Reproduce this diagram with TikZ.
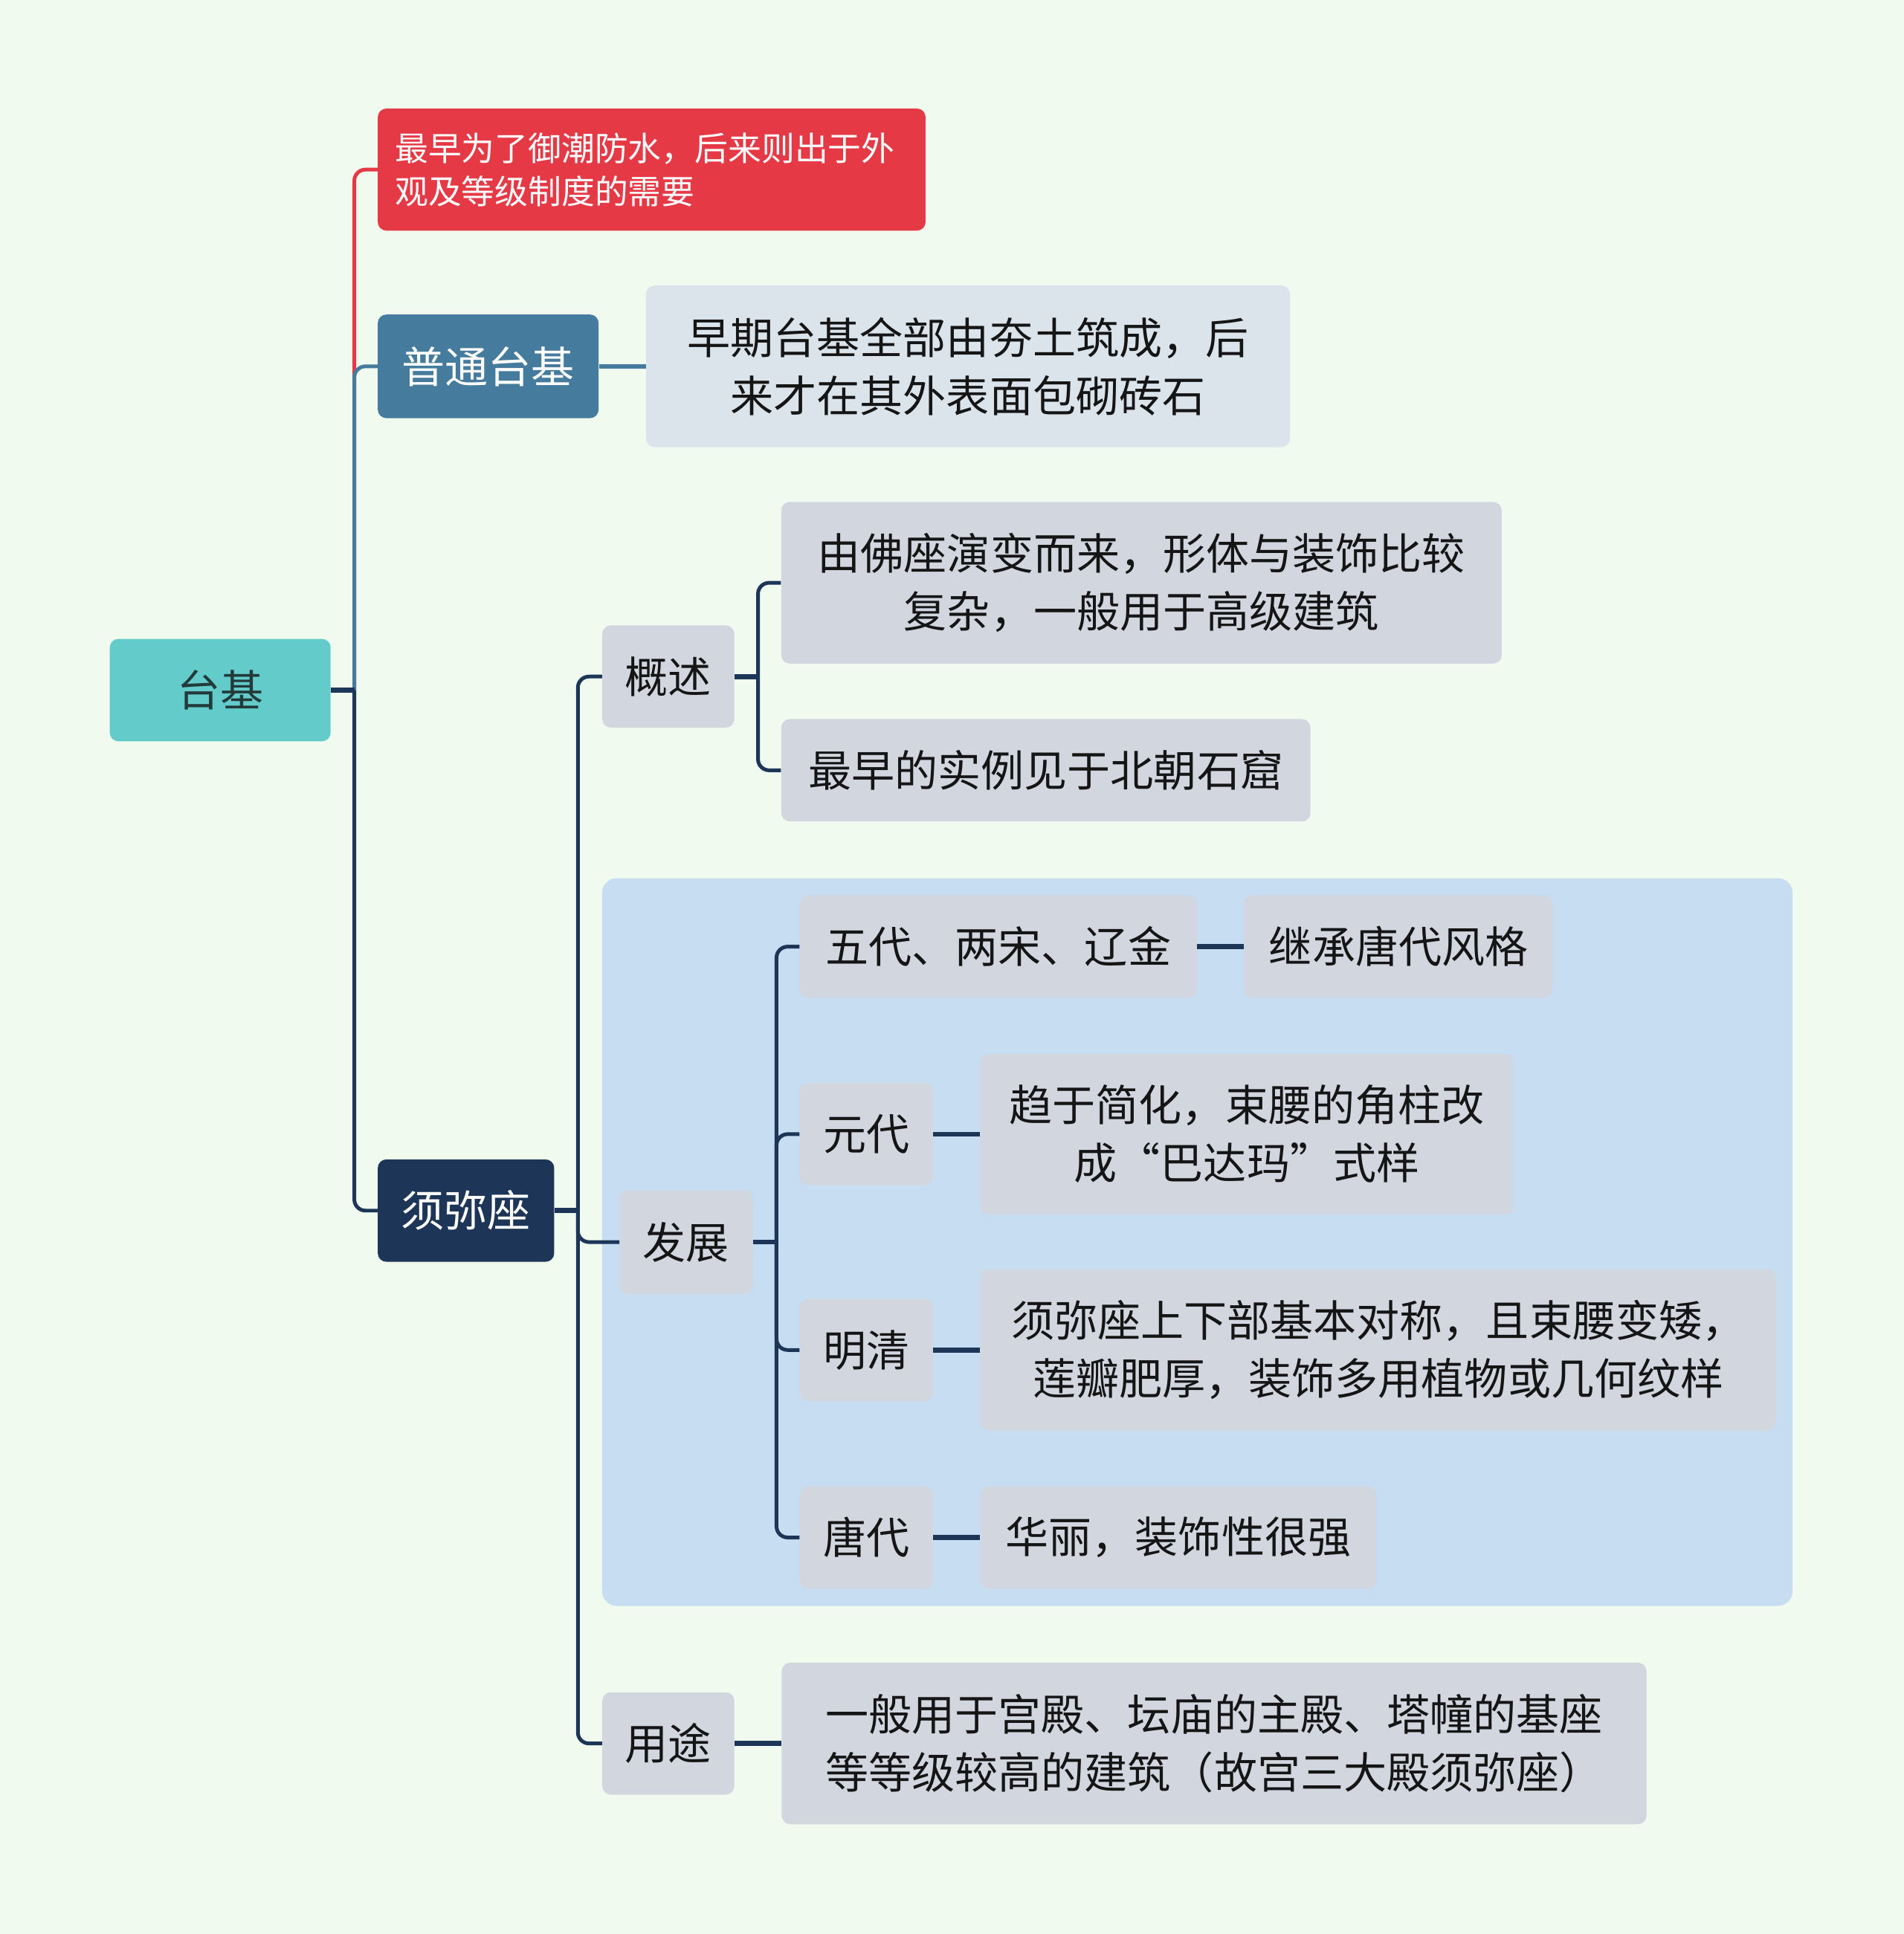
\documentclass[tikz,border=0pt]{standalone}
\usepackage{fontspec}
\newfontfamily\cjk{Noto Sans CJK SC}
\usetikzlibrary{positioning}

\definecolor{bgcol}{HTML}{F1FAEE}
\definecolor{rootcol}{HTML}{63CCCB}
\definecolor{rootink}{HTML}{223A3A}
\definecolor{redcol}{HTML}{E63946}
\definecolor{bluecol}{HTML}{457B9D}
\definecolor{navycol}{HTML}{1D3557}
\definecolor{leafcol}{HTML}{D2D7DF}
\definecolor{paleleaf}{HTML}{DBE4EB}
\definecolor{groupcol}{HTML}{C7DDF1}
\definecolor{inkcol}{HTML}{151515}

\begin{document}
\begin{tikzpicture}[
    x=1pt, y=-1pt,
    node distance=38pt,
    box/.style={
        rounded corners=7pt,
        inner sep=0pt,
        align=center,
        font=\cjk\fontsize{35}{47}\selectfont
    },
    rootbox/.style={box, fill=rootcol, text=rootink},
    topicbox/.style={box, text=white},
    leaf/.style={box, fill=leafcol, text=inkcol},
    link/.style={line width=3pt, rounded corners=9pt},
    stem/.style={line width=4pt}
]
    % canvas
    \fill[bgcol] (0,0) rectangle (1543,1568);
    \useasboundingbox (0,0) rectangle (1543,1568);

    % group frame behind the development branch
    \fill[groupcol, rounded corners=12pt] (488,712) rectangle (1453,1302);

    % root and main topics
    \node[rootbox, minimum width=179pt, minimum height=83pt] (taiji) at (178.5,559.5) {台基};
    \node[box, fill=redcol, text=white, anchor=west, minimum width=444pt, minimum height=99pt,
          align=left, text width=416pt, inner xsep=14pt,
          font=\cjk\fontsize{27}{35}\selectfont] (origin) at (306,137.5)
          {最早为了御潮防水，后来则出于外\\观及等级制度的需要};
    \node[topicbox, fill=bluecol, anchor=west, minimum width=179pt, minimum height=84pt] (putong) at (306,297) {普通台基};
    \node[box, fill=paleleaf, text=inkcol, minimum width=522pt, minimum height=131pt, right=of putong] (putongtxt)
          {早期台基全部由夯土筑成，后\\来才在其外表面包砌砖石};
    \node[topicbox, fill=navycol, anchor=west, minimum width=143pt, minimum height=83pt] (xumi) at (306,981.5) {须弥座};

    % 须弥座 subtopics
    \node[leaf, anchor=west, minimum width=107pt, minimum height=83pt] (gaishu) at (488,548.5) {概述};
    \node[leaf, anchor=west, minimum width=584pt, minimum height=131pt] (fozuo) at (633,472.5)
          {由佛座演变而来，形体与装饰比较\\复杂，一般用于高级建筑};
    \node[leaf, anchor=west, minimum width=429pt, minimum height=83pt] (shili) at (633,624.5) {最早的实例见于北朝石窟};

    \node[leaf, anchor=west, minimum width=108pt, minimum height=84pt] (fazhan) at (502,1007) {发展};
    \node[leaf, anchor=west, minimum width=322pt, minimum height=83pt] (wudai) at (648,767.5) {五代、两宋、辽金};
    \node[leaf, minimum width=250pt, minimum height=83pt, right=of wudai] (jicheng) {继承唐代风格};
    \node[leaf, anchor=west, minimum width=108pt, minimum height=83pt] (yuan) at (648,919.5) {元代};
    \node[leaf, minimum width=432pt, minimum height=130pt, right=of yuan] (yuantxt)
          {趋于简化，束腰的角柱改\\成“巴达玛”式样};
    \node[leaf, anchor=west, minimum width=108pt, minimum height=83pt] (mingqing) at (648,1094.5) {明清};
    \node[leaf, minimum width=645pt, minimum height=131pt, right=of mingqing] (mingqingtxt)
          {须弥座上下部基本对称，且束腰变矮，\\莲瓣肥厚，装饰多用植物或几何纹样};
    \node[leaf, anchor=west, minimum width=108pt, minimum height=83pt] (tang) at (648,1246.5) {唐代};
    \node[leaf, minimum width=321pt, minimum height=83pt, right=of tang] (tangtxt) {华丽，装饰性很强};

    \node[leaf, anchor=west, minimum width=107pt, minimum height=83pt] (yongtu) at (488,1413.5) {用途};
    \node[leaf, minimum width=701pt, minimum height=131pt, right=of yongtu] (yongtutxt)
          {一般用于宫殿、坛庙的主殿、塔幢的基座\\等等级较高的建筑（故宫三大殿须弥座）};

    % forks
    \path (taiji.east) ++(19,0) coordinate (rootfork);
    \path (xumi.east) ++(19,0) coordinate (xumifork);
    \path (gaishu.east) ++(19,0) coordinate (gaishufork);
    \path (fazhan.east) ++(19,0) coordinate (fazhanfork);

    % root branches
    \draw[link, redcol] (rootfork) |- (origin.west);
    \draw[link, bluecol] (rootfork) |- (putong.west);
    \draw[link, navycol] (rootfork) |- (xumi.west);
    \draw[stem, navycol] (taiji.east) -- (rootfork);
    \draw[stem, bluecol] (putong.east) -- (putongtxt.west);

    % 须弥座 branches
    \draw[stem, navycol] (xumi.east) -- (xumifork);
    \foreach \kid in {gaishu, fazhan, yongtu}
        \draw[link, navycol] (xumifork) |- (\kid.west);

    \draw[stem, navycol] (gaishu.east) -- (gaishufork);
    \foreach \kid in {fozuo, shili}
        \draw[link, navycol] (gaishufork) |- (\kid.west);

    \draw[stem, navycol] (fazhan.east) -- (fazhanfork);
    \foreach \kid in {wudai, yuan, mingqing, tang}
        \draw[link, navycol] (fazhanfork) |- (\kid.west);

    % leaf links
    \draw[stem, navycol] (wudai.east) -- (jicheng.west);
    \draw[stem, navycol] (yuan.east) -- (yuantxt.west);
    \draw[stem, navycol] (mingqing.east) -- (mingqingtxt.west);
    \draw[stem, navycol] (tang.east) -- (tangtxt.west);
    \draw[stem, navycol] (yongtu.east) -- (yongtutxt.west);
\end{tikzpicture}
\end{document}
